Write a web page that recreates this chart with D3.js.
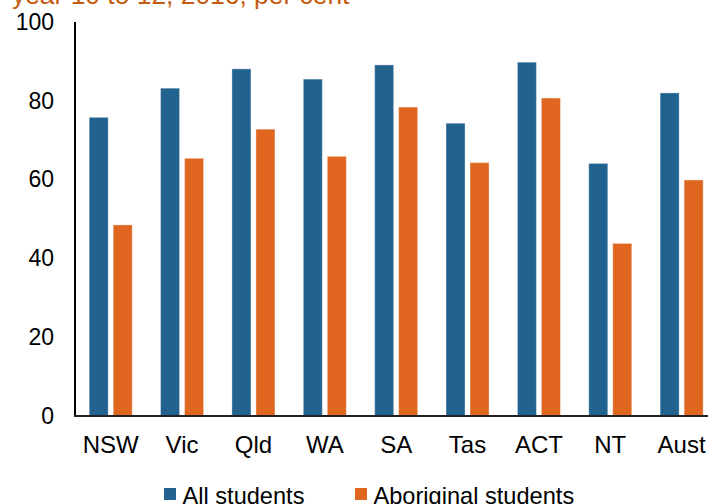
<!DOCTYPE html>
<html>
<head>
<meta charset="utf-8">
<script src="https://cdn.jsdelivr.net/npm/d3@7/dist/d3.min.js"></script>
<style>
  html, body { margin: 0; padding: 0; background: #fff; }
  svg { display: block; font-family: "Liberation Sans", Arial, sans-serif; }
</style>
</head>
<body>
<svg id="chart" width="708" height="504"></svg>
<script>
// Retention rates, year 10 to 12, 2016 (per cent)
const states = ["NSW", "Vic", "Qld", "WA", "SA", "Tas", "ACT", "NT", "Aust"];
const allStudents = [75.8, 83.2, 88.1, 85.5, 89.1, 74.3, 89.8, 64.1, 82.0];
const aboriginalStudents = [48.5, 65.4, 72.8, 65.9, 78.4, 64.3, 80.7, 43.8, 59.9];
const seriesNames = ["All students", "Aboriginal students"];
const yTicks = [0, 20, 40, 60, 80, 100];
const titleText = "year 10 to 12, 2016, per cent";

const colors = ["#22628F", "#E0651F"];
const svg = d3.select("#chart");

const rows = states.map((s, i) => ({ state: s, values: [allStudents[i], aboriginalStudents[i]] }));

const x0 = d3.scaleBand().domain(states).range([75, 717.3]).padding(0);
const x1 = d3.scaleBand().domain([0, 1]).range([14.2, 57.2]).paddingInner(0.2083).paddingOuter(0);
const y = d3.scaleLinear().domain([0, 100]).range([416, 22]);

// Title line (partly above the top edge)
svg.append("text")
  .attr("x", 12).attr("y", 4)
  .attr("fill", "#C55A11")
  .attr("font-size", 26.4)
  .text(titleText);

// Bars
const groups = svg.append("g").selectAll("g")
  .data(rows).join("g")
  .attr("transform", d => `translate(${x0(d.state)},0)`);

groups.selectAll("rect")
  .data(d => d.values.map((v, k) => ({ v, k })))
  .join("rect")
  .attr("x", d => x1(d.k))
  .attr("width", x1.bandwidth())
  .attr("y", d => y(d.v))
  .attr("height", d => y(0) - y(d.v))
  .attr("fill", d => colors[d.k])
  .attr("stroke", "#fff")
  .attr("stroke-opacity", 0.35)
  .attr("stroke-width", 1);

// Y axis
const yAxis = d3.axisLeft(y).tickValues(yTicks).tickSize(0).tickPadding(21);
const gy = svg.append("g").attr("transform", "translate(75,0)").call(yAxis);
gy.select(".domain").attr("stroke", "#000").attr("stroke-width", 2).attr("d", "M0,22V417");
gy.selectAll("text").attr("font-size", 23).attr("fill", "#000").attr("font-family", "Liberation Sans, Arial, sans-serif");

// X axis
const xAxis = d3.axisBottom(x0).tickSize(0).tickPadding(20);
const gx = svg.append("g").attr("transform", "translate(0,416)").call(xAxis);
gx.select(".domain").attr("stroke", "#222").attr("stroke-width", 2).attr("d", "M74,0H708");
gx.selectAll("text").attr("font-size", 24).attr("fill", "#000").attr("font-family", "Liberation Sans, Arial, sans-serif");

// Legend
const legendX = [164, 355];
const legend = svg.append("g").selectAll("g")
  .data(seriesNames).join("g")
  .attr("transform", (d, i) => `translate(${legendX[i]},488)`);
legend.append("rect").attr("width", 12).attr("height", 12).attr("fill", (d, i) => colors[i]);
legend.append("text").attr("x", 18.5).attr("y", 15.5).attr("font-size", 23.6).attr("fill", "#000").text(d => d);
</script>
</body>
</html>
